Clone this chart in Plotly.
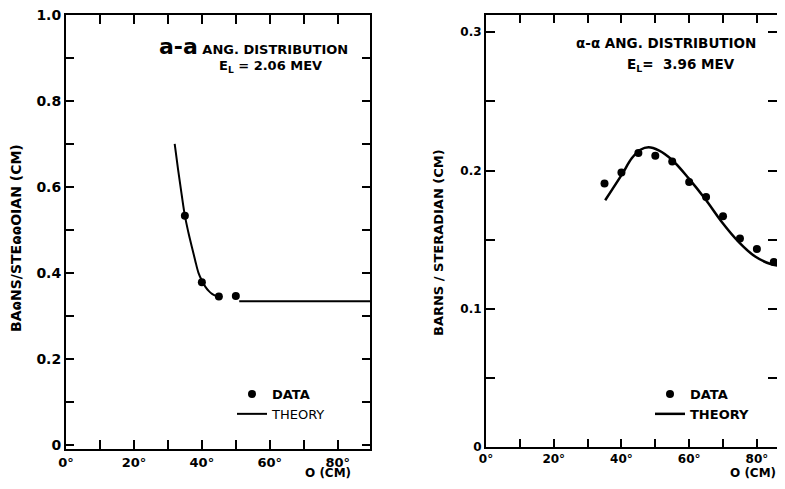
import plotly.graph_objects as go

OFF = 8                 # page body margin
W, H = 785 - 2 * OFF, 489 - 2 * OFF   # figure fits the page without scrollbars

# ---------------- data ----------------
# Left panel: a-a angular distribution, E_L = 2.06 MeV
left_data_angle = [35, 40, 45, 50]
left_data_value = [0.533, 0.378, 0.345, 0.346]
left_theory_angle = [32, 33, 34, 35, 36, 37, 38, 39, 40, 41, 42, 43, 44, 45, 46, None, 51, 90]
left_theory_value = [0.700, 0.640, 0.585, 0.533, 0.495, 0.462, 0.430, 0.400, 0.382, 0.368,
                     0.358, 0.351, 0.347, 0.345, 0.344, None, 0.334, 0.334]

# Right panel: alpha-alpha angular distribution, E_L = 3.96 MeV
right_data_angle = [35, 40, 45, 50, 55, 60, 65, 70, 75, 80, 85]
right_data_value = [0.1906, 0.1986, 0.2126, 0.2107, 0.2066, 0.1917, 0.1809, 0.1669, 0.1509, 0.1433, 0.1338]
right_theory_angle = [35.2, 40.1, 43.1, 45.6, 48.0, 51.0, 54.9, 59.8, 64.8, 69.7, 74.6, 79.5, 84.5, 89.0]
right_theory_value = [0.1785, 0.197, 0.209, 0.215, 0.2168, 0.2146, 0.2078, 0.1945, 0.1792, 0.1626,
                      0.1484, 0.1378, 0.132, 0.1308]

angle_ticks = [0, 20, 40, 60, 80]
angle_ticktext = ["0°", "20°", "40°", "60°", "80°"]
left_yticks = [0, 0.2, 0.4, 0.6, 0.8, 1.0]
left_yticktext = ["0", "0.2", "0.4", "0.6", "0.8", "1.0"]
right_yticks = [0, 0.1, 0.2, 0.3]
right_yticktext = ["0", "0.1", "0.2", "0.3"]

FONT = "DejaVu Sans"

def px(x):
    return (x - OFF) / W

def py(y):
    return 1 - (y - OFF) / H

fig = go.Figure()

fig.add_trace(go.Scatter(x=left_data_angle, y=left_data_value, mode="markers", name="<b>DATA</b>",
                         marker=dict(color="black", size=8), xaxis="x", yaxis="y", legend="legend"))
fig.add_trace(go.Scatter(x=left_theory_angle, y=left_theory_value, mode="lines", name="THEORY",
                         line=dict(color="black", width=2, shape="spline"), connectgaps=False,
                         xaxis="x", yaxis="y", legend="legend"))
fig.add_trace(go.Scatter(x=right_data_angle, y=right_data_value, mode="markers", name="<b>DATA</b>",
                         marker=dict(color="black", size=8), xaxis="x2", yaxis="y2", legend="legend2"))
fig.add_trace(go.Scatter(x=right_theory_angle, y=right_theory_value, mode="lines", name="<b>THEORY</b>",
                         line=dict(color="black", width=2.5, shape="spline"),
                         xaxis="x2", yaxis="y2", legend="legend2"))

axis_common = dict(showline=True, linecolor="black", linewidth=2, mirror="ticks", ticks="inside",
                   tickcolor="black", tickwidth=2, showgrid=False, zeroline=False, automargin=False,
                   ticklabeloverflow="allow")

# right panel: 0 deg at x=486, 3.386 px per degree, right edge at page x=777
right_xmax = (777 - 486) / 3.386

fig.update_layout(
    width=W, height=H, margin=dict(l=0, r=0, t=0, b=0, pad=0, autoexpand=False),
    paper_bgcolor="white", plot_bgcolor="white",
    font=dict(family=FONT, color="black"),
    xaxis=dict(domain=[px(66), px(370)], range=[0, 89.5], anchor="y",
               tickvals=angle_ticks, ticktext=angle_ticktext, ticklen=9,
               minor=dict(dtick=10, tick0=0, ticks="inside", ticklen=9, tickcolor="black", tickwidth=2),
               tickfont=dict(family=FONT, size=13, weight="bold"), **axis_common),
    yaxis=dict(domain=[py(449), py(15)], range=[-0.01, 1.0], anchor="x",
               tickvals=left_yticks, ticktext=left_yticktext, ticklen=8,
               minor=dict(dtick=0.1, tick0=0, ticks="inside", ticklen=8, tickcolor="black", tickwidth=2),
               tickfont=dict(family=FONT, size=14, weight="bold"), **axis_common),
    xaxis2=dict(domain=[px(486), 1.0], range=[0, right_xmax], anchor="y2",
                tickvals=angle_ticks, ticktext=angle_ticktext, ticklen=8,
                minor=dict(dtick=10, tick0=0, ticks="inside", ticklen=8, tickcolor="black", tickwidth=2),
                tickfont=dict(family=FONT, size=12, weight="bold"), **axis_common),
    yaxis2=dict(domain=[py(447), py(15)], range=[0, 0.3125], anchor="x2",
                tickvals=right_yticks, ticktext=right_yticktext, ticklen=9,
                minor=dict(dtick=0.05, tick0=0, ticks="inside", ticklen=9, tickcolor="black", tickwidth=2),
                tickfont=dict(family=FONT, size=12, weight="bold"), **axis_common),
    legend=dict(x=px(232), y=py(379), xanchor="left", yanchor="top", bgcolor="rgba(0,0,0,0)",
                font=dict(family=FONT, size=13, color="black"), itemwidth=30, tracegroupgap=0),
    legend2=dict(x=px(650), y=py(379), xanchor="left", yanchor="top", bgcolor="rgba(0,0,0,0)",
                 font=dict(family=FONT, size=13, color="black"), itemwidth=30, tracegroupgap=0),
    showlegend=True,
)

ann = []
# axis titles
ann.append(dict(text="<b>BAɷNS/STEɷɷOIAN (CM)</b>", x=px(16), y=py(238), xref="paper", yref="paper",
                textangle=-90, xanchor="center", yanchor="middle", showarrow=False,
                font=dict(size=14, family=FONT)))
ann.append(dict(text="<b>BARNS / STERADIAN (CM)</b>", x=px(438), y=py(243), xref="paper", yref="paper",
                textangle=-90, xanchor="center", yanchor="middle", showarrow=False,
                font=dict(size=13, family=FONT)))
ann.append(dict(text="<b>O (CM)</b>", x=px(352), y=py(481), xref="paper", yref="paper",
                xanchor="right", yanchor="bottom", borderpad=0, showarrow=False,
                font=dict(size=12, family=FONT)))
ann.append(dict(text="<b>O (CM)</b>", x=px(777), y=py(481), xref="paper", yref="paper",
                xanchor="right", yanchor="bottom", borderpad=0, showarrow=False,
                font=dict(size=12, family=FONT)))
# panel titles
ann.append(dict(text="<b><span style='font-size:22px'>a-a</span> ANG. DISTRIBUTION</b>",
                x=px(157), y=py(46), xref="paper", yref="paper", xanchor="left", yanchor="middle",
                showarrow=False, font=dict(size=13, family=FONT)))
ann.append(dict(text="<b>E<sub>L</sub> = 2.06 MEV</b>", x=px(217), y=py(67), xref="paper", yref="paper",
                xanchor="left", yanchor="middle", showarrow=False, font=dict(size=13, family=FONT)))
ann.append(dict(text="<b>α-α ANG. DISTRIBUTION</b>", x=px(574), y=py(43), xref="paper", yref="paper",
                xanchor="left", yanchor="middle", showarrow=False, font=dict(size=13.5, family=FONT)))
ann.append(dict(text="<b>E<sub>L</sub>=  3.96 MEV</b>", x=px(625), y=py(65), xref="paper", yref="paper",
                xanchor="left", yanchor="middle", showarrow=False, font=dict(size=13.5, family=FONT)))
fig.update_layout(annotations=ann)

fig.write_html("out.html")
